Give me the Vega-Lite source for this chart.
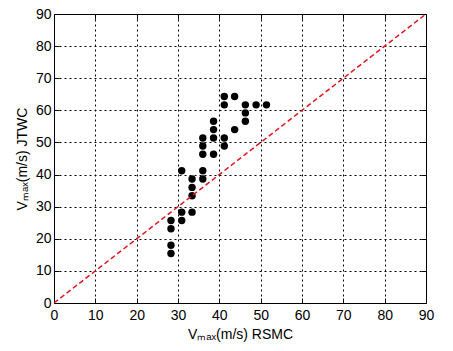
{
  "$schema": "https://vega.github.io/schema/vega-lite/v6.json",
  "width": 372,
  "height": 289,
  "autosize": "none",
  "padding": {"left": 54, "top": 14, "right": 27, "bottom": 48},
  "background": "white",
  "datasets": {
    "pts": [
      {"rsmc": 28.3, "jtwc": 15.4}, {"rsmc": 28.3, "jtwc": 18.0}, {"rsmc": 28.3, "jtwc": 23.1}, {"rsmc": 28.3, "jtwc": 25.7},
      {"rsmc": 30.9, "jtwc": 41.2}, {"rsmc": 30.9, "jtwc": 28.3}, {"rsmc": 30.9, "jtwc": 25.7},
      {"rsmc": 33.4, "jtwc": 38.6}, {"rsmc": 33.4, "jtwc": 36.0}, {"rsmc": 33.4, "jtwc": 33.4}, {"rsmc": 33.4, "jtwc": 28.3},
      {"rsmc": 36.0, "jtwc": 51.4}, {"rsmc": 36.0, "jtwc": 48.9}, {"rsmc": 36.0, "jtwc": 46.3}, {"rsmc": 36.0, "jtwc": 41.2}, {"rsmc": 36.0, "jtwc": 38.6},
      {"rsmc": 38.6, "jtwc": 56.6}, {"rsmc": 38.6, "jtwc": 54.0}, {"rsmc": 38.6, "jtwc": 51.4}, {"rsmc": 38.6, "jtwc": 46.3},
      {"rsmc": 41.2, "jtwc": 64.3}, {"rsmc": 41.2, "jtwc": 61.7}, {"rsmc": 41.2, "jtwc": 51.4}, {"rsmc": 41.2, "jtwc": 48.9},
      {"rsmc": 43.7, "jtwc": 64.3}, {"rsmc": 43.7, "jtwc": 54.0},
      {"rsmc": 46.3, "jtwc": 61.7}, {"rsmc": 46.3, "jtwc": 59.2}, {"rsmc": 46.3, "jtwc": 56.6},
      {"rsmc": 48.9, "jtwc": 61.7},
      {"rsmc": 51.4, "jtwc": 61.7}
    ],
    "diag": [{"rsmc": 0, "jtwc": 0}, {"rsmc": 90, "jtwc": 90}]
  },
  "config": {
    "view": {"stroke": "black", "strokeWidth": 1},
    "axis": {
      "labelFont": "Liberation Sans",
      "titleFont": "Liberation Sans",
      "labelFontSize": 14,
      "titleFontSize": 14,
      "titleFontWeight": "normal",
      "labelColor": "black",
      "titleColor": "black",
      "domainColor": "black",
      "tickColor": "black",
      "gridColor": "black",
      "gridDash": [2, 3],
      "gridOpacity": 1,
      "gridWidth": 1,
      "tickSize": -5
    }
  },
  "resolve": {"axis": {"x": "independent", "y": "independent"}},
  "layer": [
    {
      "data": {"name": "pts"},
      "mark": {"type": "point", "filled": true, "color": "black", "opacity": 1, "size": 55, "shape": "circle"},
      "encoding": {
        "x": {"field": "rsmc", "type": "quantitative", "scale": {"domain": [0, 90], "nice": false},
          "axis": {"orient": "bottom", "values": [0,10,20,30,40,50,60,70,80,90], "title": "Vₘₐₓ(m/s) RSMC", "labelPadding": 10, "titlePadding": 5, "labelFlush": false}},
        "y": {"field": "jtwc", "type": "quantitative", "scale": {"domain": [0, 90], "nice": false},
          "axis": {"orient": "left", "values": [0,10,20,30,40,50,60,70,80,90], "title": "Vₘₐₓ(m/s) JTWC", "labelPadding": 8, "titlePadding": 6, "labelFlush": false}}
      }
    },
    {
      "data": {"name": "diag"},
      "mark": {"type": "line", "color": "#e3141e", "strokeDash": [5, 3], "strokeWidth": 1.5},
      "encoding": {
        "x": {"field": "rsmc", "type": "quantitative", "scale": {"domain": [0, 90], "nice": false},
          "axis": {"orient": "top", "values": [0,10,20,30,40,50,60,70,80,90], "labels": false, "title": null, "grid": false, "domain": false}},
        "y": {"field": "jtwc", "type": "quantitative", "scale": {"domain": [0, 90], "nice": false},
          "axis": {"orient": "right", "values": [0,10,20,30,40,50,60,70,80,90], "labels": false, "title": null, "grid": false, "domain": false}}
      }
    }
  ]
}
